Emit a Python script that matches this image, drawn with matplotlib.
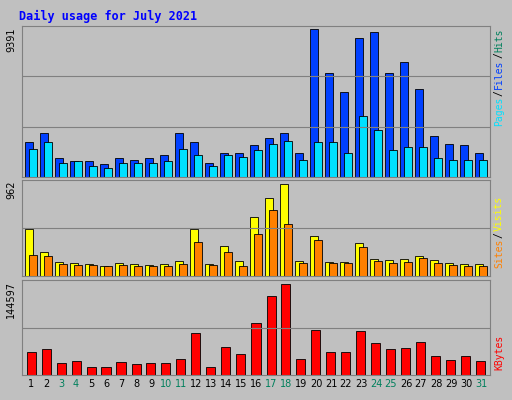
import matplotlib
matplotlib.use('Agg')
import matplotlib.pyplot as plt
import numpy as np

days = list(range(1, 32))
weekend = [3, 4, 10, 11, 17, 18, 24, 25, 31]

# values
files = [2200, 2800, 1200, 1000, 1000, 800, 1200, 1100, 1200, 1400, 2800, 2200, 900, 1500,
         1500, 2000, 2500, 2800, 1500, 9391, 6600, 5400, 8800, 9200, 6600, 7300, 5600, 2600,
         2100, 2000, 1500]
pages = [1800, 2200, 900, 1000, 700, 600, 900, 900, 900, 1000, 1800, 1400, 700, 1400,
         1300, 1700, 2100, 2300, 1100, 2200, 2200, 1500, 3900, 3000, 1700, 1900, 1900, 1200,
         1100, 1100, 1100]
visits = [490, 255, 150, 140, 130, 105, 140, 130, 115, 130, 160, 490, 130, 315, 160, 620,
          810, 962, 160, 420, 150, 150, 340, 180, 170, 180, 210, 170, 140, 130, 130]
sites = [220, 210, 130, 115, 115, 105, 115, 105, 105, 105, 130, 360, 115, 250, 105, 440,
         690, 540, 140, 380, 140, 140, 305, 160, 140, 150, 190, 140, 115, 105, 105]
kbytes = [37000, 41000, 19000, 22000, 13000, 13000, 21000, 18000, 19000, 19000, 26000,
          66000, 13000, 45000, 34000, 82000, 126000, 144597, 26000, 72000, 37000, 37000,
          70000, 50000, 41000, 43000, 53000, 30000, 24000, 30000, 22000]

W, H = 512, 400
fig = plt.figure(figsize=(W / 100, H / 100), dpi=100)
fig.patch.set_facecolor('#C0C0C0')
fig.text(19 / W, 1 - 16 / H, 'Daily usage for July 2021', color='#0000FF',
         family='DejaVu Sans Mono', weight='bold', fontsize=8.5, va='center')
renderer = fig.canvas.get_renderer()

x = np.array(days)

def panel(top, bottom):
    ax = fig.add_axes([22 / W, 1 - bottom / H, 468 / W, (bottom - top) / H])
    ax.set_facecolor('#C0C0C0')
    ax.set_xlim(0.4, 31.6)
    ax.set_xticks([])
    ax.set_yticks([])
    for s in ax.spines.values():
        s.set_color('#808080')
    return ax

def side_labels(ax, items, top_px):
    # stacked from top of panel downward; text reads bottom-to-top
    parts = []
    for i, (txt, col) in enumerate(reversed(items)):
        if i:
            parts.append(('/', 'black'))
        parts.append((txt, col))
    y = 1 - top_px / H
    for txt, col in parts:
        t = fig.text(499 / W, y, txt, color=col, rotation=90, family='DejaVu Sans Mono',
                     fontsize=7, va='top', ha='center')
        h = t.get_window_extent(renderer).height
        y -= (h + 1) / H

def ylabel(ax, val):
    ax.text(-0.012, 0.99, str(val), rotation=90, transform=ax.transAxes,
            fontsize=7, ha='right', va='top')

ax1 = panel(26, 177)
ax1.set_ylim(0, 9391 / 0.98)
for f in (1 / 3, 2 / 3):
    ax1.axhline(9391 / 0.98 * f, color='#808080', lw=0.8)
ax1.bar(x - 0.15, files, width=0.55, color='#0040FF', edgecolor='black', lw=0.6)
ax1.bar(x + 0.12, pages, width=0.55, color='#00E0FF', edgecolor='black', lw=0.6)
ylabel(ax1, 9391)
side_labels(ax1, [('Pages', '#00E0FF'), ('Files', '#0040FF'), ('Hits', '#00805C')], 28)

ax2 = panel(180, 276)
ax2.set_ylim(0, 962 / 0.96)
ax2.axhline(962 / 0.96 / 2, color='#808080', lw=0.8)
ax2.bar(x - 0.15, visits, width=0.55, color='#FFFF00', edgecolor='black', lw=0.6)
ax2.bar(x + 0.12, sites, width=0.55, color='#FF8000', edgecolor='black', lw=0.6)
ylabel(ax2, 962)
side_labels(ax2, [('Sites', '#FF8000'), ('Visits', '#FFFF00')], 196)

ax3 = panel(280, 375)
ax3.set_ylim(0, 144597 / 0.96)
ax3.axhline(144597 / 0.96 / 2, color='#808080', lw=0.8)
ax3.bar(x, kbytes, width=0.6, color='#FF0000', edgecolor='black', lw=0.6)
ylabel(ax3, 144597)
side_labels(ax3, [('KBytes', '#FF0000')], 335)

ax3.set_xticks(days)
ax3.set_xticklabels([str(d) for d in days], fontsize=7)
ax3.tick_params(length=0, pad=3)
for lab, d in zip(ax3.get_xticklabels(), days):
    if d in weekend:
        lab.set_color('#00805C')

fig.savefig('out.png', dpi=100, facecolor=fig.get_facecolor())
